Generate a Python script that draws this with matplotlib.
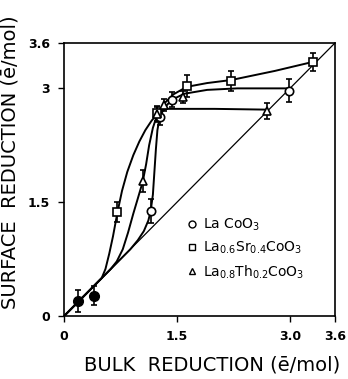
import matplotlib
matplotlib.use("Agg")
import matplotlib.pyplot as plt
from matplotlib.lines import Line2D

# ---- data (units: e/mol) ----
common_x = [0.19, 0.40]
common_y = [0.20, 0.27]
common_err = [0.14, 0.12]

lacoo3_x = [1.15, 1.27, 1.43, 2.99]
lacoo3_y = [1.38, 2.62, 2.85, 2.97]
lacoo3_err = [0.16, 0.10, 0.10, 0.15]

sr_x = [0.71, 1.24, 1.63, 2.22, 3.31]
sr_y = [1.37, 2.67, 3.03, 3.10, 3.35]
sr_err = [0.13, 0.10, 0.15, 0.13, 0.12]

th_x = [1.045, 1.24, 1.33, 1.58, 2.69]
th_y = [1.78, 2.66, 2.78, 2.89, 2.70]
th_err = [0.15, 0.10, 0.08, 0.08, 0.11]

# traced fitted curves
sr_curve_x = [0.0, 0.40, 0.50, 0.55, 0.60, 0.65, 0.71, 0.77, 0.84, 0.92, 1.00, 1.08, 1.16, 1.24,
              1.33, 1.45, 1.63, 1.90, 2.22, 2.80, 3.31]
sr_curve_y = [0.0, 0.40, 0.50, 0.62, 0.82, 1.05, 1.37, 1.65, 1.90, 2.12, 2.30, 2.45, 2.57, 2.67,
              2.80, 2.92, 3.02, 3.07, 3.11, 3.23, 3.35]

th_curve_x = [0.0, 0.62, 0.70, 0.78, 0.85, 0.92, 0.98, 1.045, 1.09, 1.13, 1.18, 1.23, 1.29, 1.37,
              1.45, 2.00, 2.69]
th_curve_y = [0.0, 0.62, 0.72, 0.88, 1.10, 1.35, 1.55, 1.77, 2.00, 2.25, 2.48, 2.63, 2.70, 2.73,
              2.73, 2.73, 2.72]

la_curve_x = [0.0, 0.72, 0.88, 0.98, 1.06, 1.12, 1.15, 1.18, 1.20, 1.22, 1.24, 1.27, 1.33, 1.43,
              1.60, 1.90, 2.30, 2.97]
la_curve_y = [0.0, 0.72, 0.88, 1.00, 1.12, 1.26, 1.38, 1.60, 1.90, 2.20, 2.45, 2.62, 2.74, 2.85,
              2.93, 2.98, 3.00, 3.00]

diag = [0.0, 3.6]

x_ticks = [0, 1.5, 3.0, 3.6]
x_ticklabels = ["0", "1.5", "3.0", "3.6"]
y_ticks = [0, 1.5, 3.0, 3.6]
y_ticklabels = ["0", "1.5", "3", "3.6"]

labels = ["La CoO$_3$", "La$_{0.6}$Sr$_{0.4}$CoO$_3$", "La$_{0.8}$Th$_{0.2}$CoO$_3$"]

fig = plt.figure(figsize=(3.48, 3.79), dpi=100)
ax = fig.add_axes([0.184, 0.166, 0.779, 0.721])

ax.plot(diag, diag, color="black", lw=0.9)
lkw = dict(color="black", lw=1.4, solid_joinstyle="round")
ax.plot(sr_curve_x, sr_curve_y, **lkw)
ax.plot(th_curve_x, th_curve_y, **lkw)
ax.plot(la_curve_x, la_curve_y, **lkw)

ekw = dict(ecolor="black", elinewidth=1.2, capsize=2, capthick=1.2, ls="none")
ax.errorbar(common_x, common_y, yerr=common_err, fmt="o", ms=7, mfc="black", mec="black", **ekw)
ax.errorbar(lacoo3_x, lacoo3_y, yerr=lacoo3_err, fmt="o", ms=6, mfc="white", mec="black", mew=1.2, **ekw)
ax.errorbar(sr_x, sr_y, yerr=sr_err, fmt="s", ms=6, mfc="white", mec="black", mew=1.2, **ekw)
ax.errorbar(th_x, th_y, yerr=th_err, fmt="^", ms=6, mfc="white", mec="black", mew=1.2, **ekw)

ax.set_xlim(0, 3.6)
ax.set_ylim(0, 3.6)
ax.set_xticks(x_ticks)
ax.set_xticklabels(x_ticklabels, fontsize=9, fontweight="bold")
ax.set_yticks(y_ticks)
ax.set_yticklabels(y_ticklabels, fontsize=9, fontweight="bold")
ax.tick_params(direction="out", length=4, width=1, pad=6)
for s in ax.spines.values():
    s.set_linewidth(1.2)

ax.set_xlabel("BULK  REDUCTION (ē/mol)", fontsize=14)
ax.set_ylabel("SURFACE  REDUCTION (ē/mol)", fontsize=14)
ax.xaxis.set_label_coords(0.545, -0.145)
ax.yaxis.set_label_coords(-0.165, 0.565)

handles = [
    Line2D([], [], marker="o", ls="none", mfc="white", mec="black", ms=5),
    Line2D([], [], marker="s", ls="none", mfc="white", mec="black", ms=5),
    Line2D([], [], marker="^", ls="none", mfc="white", mec="black", ms=5),
]
ax.legend(handles, labels, loc="upper left", bbox_to_anchor=(0.40, 0.41), frameon=False,
          fontsize=10, handletextpad=0.3, labelspacing=0.5, handlelength=1.0)

fig.savefig("out.png", dpi=100)
